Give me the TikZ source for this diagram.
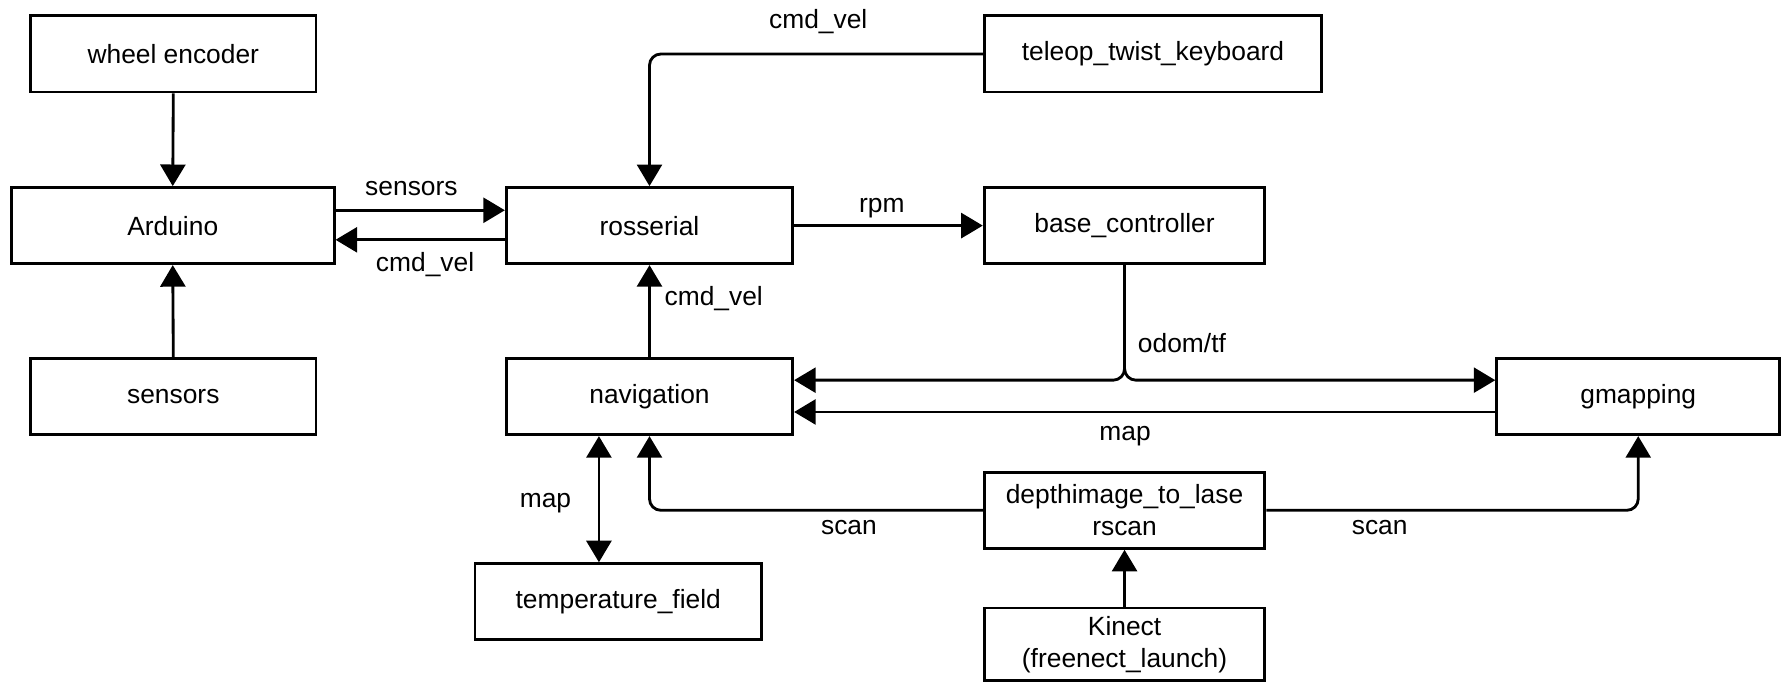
\documentclass[tikz,border=0pt]{standalone}
\usepackage{fontspec}
\setmainfont{Liberation Sans}
\usetikzlibrary{arrows.meta}
\begin{document}
\begin{tikzpicture}[x=0.5pt,y=-0.5pt,
  font=\fontsize{11.6}{14}\selectfont,
  box/.style={draw, line width=1.25pt, minimum height=33.5pt, inner sep=0pt, align=center},
  conn/.style={line width=1.25pt, -{Triangle[length=9.5pt,width=11pt]}},
  conn2/.style={line width=1.25pt, {Triangle[length=9.5pt,width=11pt]}-{Triangle[length=9.5pt,width=11pt]}},
  lbl/.style={inner sep=0pt}]
\useasboundingbox (0,0) rectangle (1568,601);

\node[box, minimum width=125.5pt] (wheel) at (152.5,47.5) {wheel encoder};
\node[box, minimum width=142pt] (ard) at (152,198.5) {Arduino};
\node[box, minimum width=125.5pt] (sens) at (152.5,349) {sensors};
\node[box, minimum width=126pt] (ros) at (571.5,198.5) {rosserial};
\node[box, minimum width=148.5pt] (tel) at (1014.5,47.5) {teleop\_twist\_keyboard};
\node[box, minimum width=123.5pt] (bc) at (989.5,198.5) {base\_controller};
\node[box, minimum width=126pt] (nav) at (571.5,349) {navigation};
\node[box, minimum width=124.5pt] (gm) at (1441.5,349) {gmapping};
\node[box, minimum width=123.5pt] (dep) at (989.5,449) {depthimage\_to\_lase\\rscan};
\node[box, minimum width=126pt] (temp) at (544,529.5) {temperature\_field};
\node[box, minimum width=123.5pt, minimum height=32pt] (kin) at (989.5,567) {Kinect\\(freenect\_launch)};

% connectors
\draw[conn] (wheel.south) -- (ard.north);
\draw[conn] (sens.north) -- (ard.south);
\draw[conn] ([yshift=6.75pt]ard.east) -- ([yshift=6.75pt]ros.west);
\draw[conn] ([yshift=-6.25pt]ros.west) -- ([yshift=-6.25pt]ard.east);
\draw[conn, rounded corners=5pt] (tel.west) -| (ros.north);
\draw[conn] (ros.east) -- (bc.west);
\draw[conn] (nav.north) -- (ros.south);
\draw[conn, rounded corners=5pt] (bc.south) |- ([yshift=7.25pt]nav.east);
\draw[conn, rounded corners=5pt] (bc.south) |- ([yshift=7.25pt]gm.west);
\draw[conn] ([yshift=-6.75pt]gm.west) -- ([yshift=-6.75pt]nav.east);
\draw[conn2] ([xshift=-22.25pt]nav.south) -- ([xshift=-22.25pt]nav.south |- temp.north);
\draw[conn, rounded corners=5pt] (dep.west) -| (nav.south);
\draw[conn, rounded corners=5pt] (dep.east) -| (gm.south);
\draw[conn] (kin.north) -- (dep.south);

% labels
\node[lbl] (l1) at (362,166) {sensors};
\node[lbl] (l2) at (374,233) {cmd\_vel};
\node[lbl] (l3) at (720,19) {cmd\_vel};
\node[lbl] (l4) at (776,183) {rpm};
\node[lbl] (l5) at (628,263) {cmd\_vel};
\node[lbl] (l6) at (1040,302) {odom/tf};
\node[lbl] (l7) at (990,384) {map};
\node[lbl] (l8) at (480,443) {map};
\node[lbl] (l9) at (747,464) {scan};
\node[lbl] (l10) at (1214,464) {scan};
\end{tikzpicture}
\end{document}
